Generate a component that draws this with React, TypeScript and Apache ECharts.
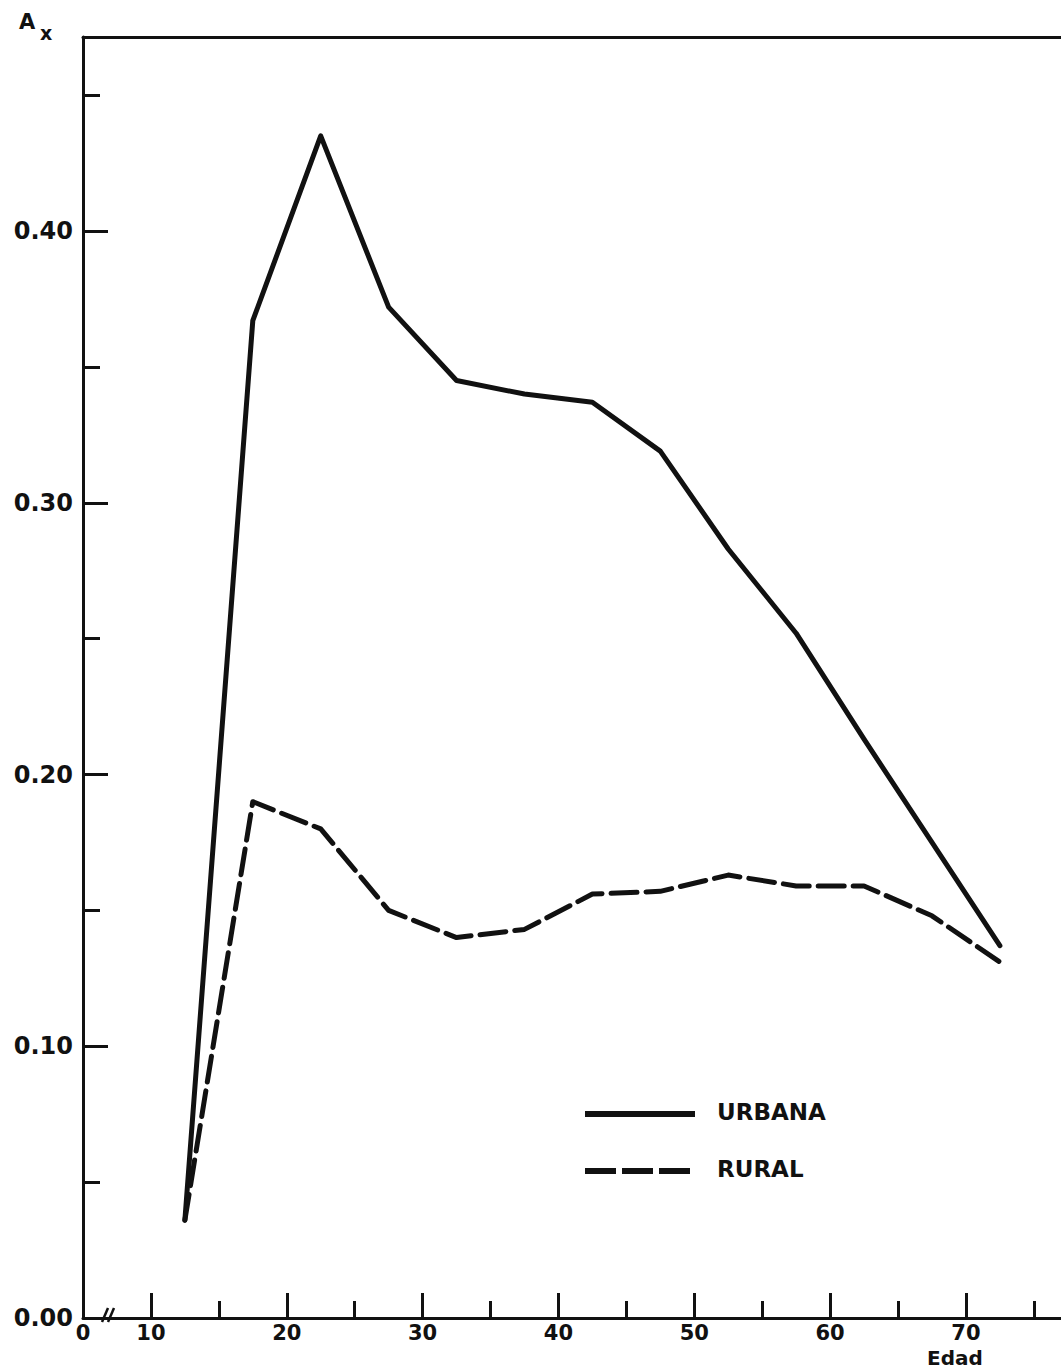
import React, { useEffect, useRef } from "react";
import * as echarts from "echarts";

const ages = [12.5, 17.5, 22.5, 27.5, 32.5, 37.5, 42.5, 47.5, 52.5, 57.5, 62.5, 67.5, 72.5];
const urbana = [0.036, 0.367, 0.435, 0.372, 0.345, 0.340, 0.337, 0.319, 0.283, 0.252, 0.213, 0.175, 0.137];
const rural = [0.036, 0.190, 0.180, 0.150, 0.140, 0.143, 0.156, 0.157, 0.163, 0.159, 0.159, 0.148, 0.131];

const xMajorTicks = [10, 20, 30, 40, 50, 60, 70];
const xMinorTicks = [15, 25, 35, 45, 55, 65, 75];
const xLabelValues = [5, 10, 20, 30, 40, 50, 60, 70];
const yMajorTicks = [0.1, 0.2, 0.3, 0.4];
const yMinorTicks = [0.05, 0.15, 0.25, 0.35, 0.45];
const yLabelValues = [0, 0.1, 0.2, 0.3, 0.4];

const FONT = "DejaVu Sans";
const INK = "#111";

export default function App() {
  const ref = useRef<HTMLDivElement>(null);
  useEffect(() => {
    if (!ref.current) return;
    const chart = echarts.init(ref.current, undefined, { renderer: "svg" });
    const labelStyle = { fontFamily: FONT, fontWeight: "bold" as const, fontSize: 24, color: INK };
    const txt = (text: string, size: number) => ({
      text,
      fontFamily: FONT,
      fontWeight: "bold",
      fontSize: size,
      fill: INK,
    });
    chart.setOption({
      animation: false,
      backgroundColor: "#fff",
      grid: { left: 83, right: 0, top: 37, bottom: 52 },
      xAxis: [
        {
          type: "value",
          min: 5,
          max: 77,
          position: "bottom",
          axisLine: { show: true, lineStyle: { color: INK, width: 3 } },
          axisTick: { show: true, inside: true, length: 25, customValues: xMajorTicks, lineStyle: { color: INK, width: 3 } },
          axisLabel: {
            show: true,
            customValues: xLabelValues,
            margin: 4,
            formatter: (v: number) => (v === 5 ? "0" : String(v)),
            ...labelStyle,
            fontSize: 21,
            lineHeight: 22,
          },
          splitLine: { show: false },
        },
        {
          type: "value",
          min: 5,
          max: 77,
          position: "bottom",
          axisLine: { show: false },
          axisTick: { show: true, inside: true, length: 17, customValues: xMinorTicks, lineStyle: { color: INK, width: 3 } },
          axisLabel: { show: false },
          splitLine: { show: false },
        },
        {
          type: "value",
          min: 5,
          max: 77,
          position: "top",
          axisLine: { show: true, lineStyle: { color: INK, width: 3 } },
          axisTick: { show: false },
          axisLabel: { show: false },
          splitLine: { show: false },
        },
      ],
      yAxis: [
        {
          type: "value",
          min: 0,
          max: 0.4714,
          position: "left",
          axisLine: { show: true, lineStyle: { color: INK, width: 3 } },
          axisTick: { show: true, inside: true, length: 25, customValues: yMajorTicks, lineStyle: { color: INK, width: 3 } },
          axisLabel: {
            show: true,
            customValues: yLabelValues,
            margin: 10,
            formatter: (v: number) => v.toFixed(2),
            ...labelStyle,
          },
          splitLine: { show: false },
        },
        {
          type: "value",
          min: 0,
          max: 0.4714,
          position: "left",
          axisLine: { show: false },
          axisTick: { show: true, inside: true, length: 17, customValues: yMinorTicks, lineStyle: { color: INK, width: 3 } },
          axisLabel: { show: false },
          splitLine: { show: false },
        },
      ],
      series: [
        {
          name: "URBANA",
          type: "line",
          xAxisIndex: 0,
          yAxisIndex: 0,
          data: ages.map((a, i) => [a, urbana[i]]),
          symbol: "none",
          lineStyle: { color: INK, width: 5, join: "round", cap: "round" },
        },
        {
          name: "RURAL",
          type: "line",
          xAxisIndex: 0,
          yAxisIndex: 0,
          data: ages.map((a, i) => [a, rural[i]]),
          symbol: "none",
          lineStyle: { color: INK, width: 5, type: [26, 9], join: "round", cap: "round" },
        },
      ],
      graphic: [
        { type: "text", left: 19, top: 11, style: txt("A", 21) },
        { type: "text", left: 40, top: 23, style: txt("x", 19) },
        { type: "text", left: 927, top: 1348, style: txt("Edad", 20) },
        { type: "line", shape: { x1: 108, y1: 1308, x2: 102, y2: 1322 }, style: { stroke: INK, lineWidth: 2.5 } },
        { type: "line", shape: { x1: 114, y1: 1308, x2: 108, y2: 1322 }, style: { stroke: INK, lineWidth: 2.5 } },
        { type: "line", shape: { x1: 585, y1: 1114, x2: 695, y2: 1114 }, style: { stroke: INK, lineWidth: 6 } },
        { type: "line", shape: { x1: 585, y1: 1171, x2: 690, y2: 1171 }, style: { stroke: INK, lineWidth: 6, lineDash: [31, 6] } },
        { type: "text", left: 717, top: 1100, style: txt("URBANA", 23) },
        { type: "text", left: 717, top: 1157, style: txt("RURAL", 23) },
      ],
    });
    return () => chart.dispose();
  }, []);
  return (
    <div
      ref={ref}
      style={{ position: "absolute", left: 0, top: 0, width: 1061, height: 1370, background: "#fff" }}
    />
  );
}
